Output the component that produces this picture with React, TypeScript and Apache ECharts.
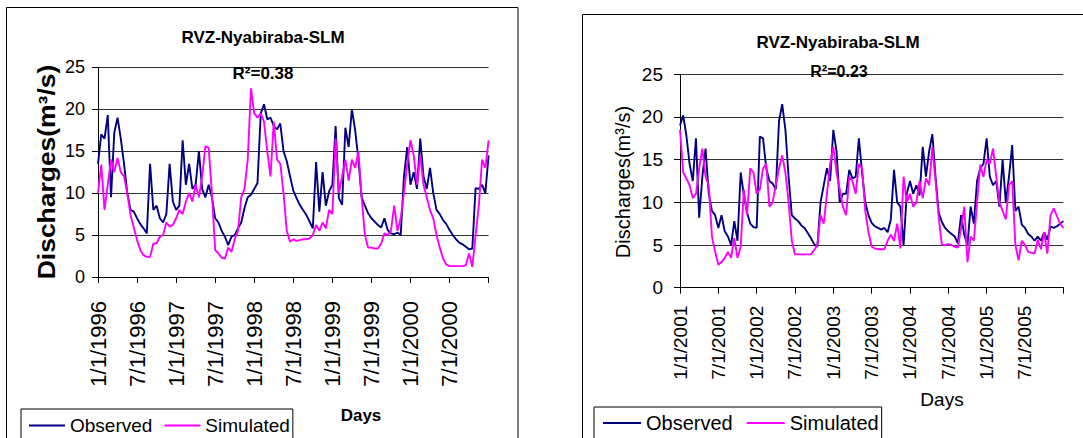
import React, { useEffect, useRef } from "react";
import * as echarts from "echarts";

// Observed / simulated daily discharges (m3/s), read every half month
const obs1996 = [
  13.5, 17, 16.5, 19.3, 9.5, 17.2, 19, 16.5, 13.5, 10,
  8, 7.8, 7, 6.3, 5.8, 5.2, 13.5, 8, 8.5, 7,
  6.5, 7.5, 13.5, 9, 8, 8.5, 16.3, 11, 13.5, 10.5,
  11, 15, 10.5, 9.5, 11, 9.5, 7, 6.5, 5.5, 4.8,
  3.8, 4.8, 5, 5.8, 6.5, 8.2, 9.5, 9.8, 10.5, 11.2,
  19.5, 20.6, 18.8, 19, 18, 17.6, 18.3, 15, 13.8, 12,
  10.3, 9.4, 8.6, 8, 7.4, 6.6, 5.8, 13.7, 7.8, 12.5,
  8.5, 10.2, 11, 18, 9.4, 8.6, 17.8, 15.5, 20, 17.5,
  14, 9.5, 8.5, 7.6, 7, 6.6, 6.2, 5.9, 7, 5.6,
  5.2, 5.1, 5.3, 5, 12, 15.5, 11, 12.5, 10.5, 16.5,
  12, 10.5, 13, 10, 8, 7.5, 6.8, 6.3, 5.6, 5,
  4.5, 4.1, 3.9, 3.6, 3.3, 3.4, 10.6, 10.5, 11, 10,
  14.5,
];
const sim1996 = [
  10, 13.4, 8, 11, 14, 12.5, 14.2, 12.5, 12, 10,
  7.4, 5.9, 4.4, 3.2, 2.6, 2.4, 2.4, 4, 4, 4.8,
  5, 6.5, 6, 6.2, 7, 8, 7.5, 9, 10, 9,
  11, 9.5, 12, 15.6, 15.4, 10, 3.2, 2.8, 2.3, 2.2,
  3.5, 3, 4.5, 5.5, 9.5, 10.5, 14, 22.5, 19.5, 19,
  19.5, 18.5, 15, 12, 18.5, 14, 13.5, 10, 5.5, 4.2,
  4.5, 4.3, 4.4, 4.5, 4.5, 4.6, 5, 6.2, 5.5, 6.5,
  5.8, 8, 7.5, 16.5, 10, 12, 14, 11.5, 14, 13,
  15, 9.5, 5, 3.5, 3.5, 3.4, 3.4, 4, 5.2, 5,
  5.5, 8.5, 5.5, 7, 10, 13.5, 16.3, 14.5, 11, 14.5,
  11, 9.5, 8, 7, 5, 3.5, 2.2, 1.5, 1.3, 1.3,
  1.3, 1.3, 1.3, 1.4, 2.8, 1.2, 5, 8.5, 14, 13,
  16.3,
];
const obs2001 = [
  19, 20.2, 17.8, 14.5, 12.5, 17.5, 8.2, 13, 16.3, 11,
  9, 8.5, 7, 8.5, 6.6, 6, 5, 7.8, 5.5, 13.5,
  10.8, 8.8, 7.5, 7.1, 7, 17.7, 17.5, 14, 12.5, 12.2,
  11.5, 19.5, 21.5, 18.5, 13, 8.5, 8.1, 7.8, 7.3, 7,
  6.4, 5.8, 5.1, 4.8, 10, 12, 14, 12.5, 18.5, 16,
  10, 11, 11, 13.8, 12.8, 13, 17.5, 13.5, 10, 8.5,
  7.6, 7.2, 7, 6.8, 7, 6.5, 8, 13.8, 10, 9.5,
  5, 11, 12.5, 11, 12, 10.8, 16.5, 13, 16, 18,
  13, 8.8, 7.7, 7, 6.6, 6.3, 6, 5.2, 8.5, 6.2,
  5, 9.5, 7.5, 12.5, 14, 14.5, 17.5, 13, 12, 12.5,
  9.5, 15, 10, 13, 16.7, 9, 9.5, 7.4, 7, 6.3,
  6, 5.5, 6, 5.5, 6.5, 5.6, 7.2, 7, 7.2, 7.5,
  7.8,
];
const sim2001 = [
  18.5, 13.5, 12.8, 12, 10.5, 11, 14, 16.3, 13, 12,
  6, 4.2, 2.7, 3, 3.5, 4.2, 3.5, 5.8, 3.5, 4.8,
  11.5, 8.5, 14, 13.5, 11, 11.5, 14, 14.5, 9.5, 10,
  12, 14, 15.5, 13.5, 10, 5.5, 3.9, 3.9, 3.9, 3.9,
  3.9, 3.9, 4.4, 5, 8.5, 7.5, 11, 14.5, 16.5, 13.5,
  11.5, 9.5, 8.5, 13, 12.5, 11, 14.5, 14, 9, 6.5,
  4.8, 4.6, 4.5, 4.5, 4.5, 5.5, 6.2, 5.5, 7.5, 4.6,
  13, 10, 11, 9.5, 10, 12.5, 10.5, 12.8, 12, 16.5,
  12.5, 8.2, 5, 5, 5.1, 5, 4.8, 4.7, 7, 9.5,
  3, 6, 5.5, 10, 14.4, 13, 15, 14.5, 16.3, 13,
  10, 9, 8, 12, 12.5, 5, 3.2, 5.5, 5, 4.2,
  4.1, 4, 5.6, 4.5, 6.5, 4, 8.5, 9.3, 8.4, 7.5,
  7,
];

const ticks1996 = ["1/1/1996", "7/1/1996", "1/1/1997", "7/1/1997", "1/1/1998", "7/1/1998", "1/1/1999", "7/1/1999", "1/1/2000", "7/1/2000"];
const ticks2001 = ["1/1/2001", "7/1/2001", "1/1/2002", "7/1/2002", "1/1/2003", "7/1/2003", "1/1/2004", "7/1/2004", "1/1/2005", "7/1/2005"];
const seriesNames = ["Observed", "Simulated"];
const titleText = "RVZ-Nyabiraba-SLM";
const r2Left = "R²=0.38";
const r2Right = "R²=0.23";
const yTitle = "Discharges(m³/s)";
const xTitle = "Days";

const FONT = "'Liberation Sans', Arial, Helvetica, sans-serif";
const NAVY = "#000080";
const MAGENTA = "#FF00FF";

const toPairs = (arr: number[]) => arr.map((v, i) => [i * 0.5, v]);

function xAxisFor(grid: number, labels: string[], fontSize: number, margin: number) {
  return {
    gridIndex: grid,
    type: "value",
    min: 0,
    max: 60,
    interval: 6,
    axisLine: { show: true, onZero: false, lineStyle: { color: "#000", width: 1 } },
    axisTick: { show: true, length: 6, lineStyle: { color: "#000", width: 1 } },
    splitLine: { show: false },
    axisLabel: {
      rotate: 90,
      margin,
      fontSize,
      color: "#000",
      fontFamily: FONT,
      showMaxLabel: true,
      formatter: (v: number) => labels[Math.round(v / 6)] ?? "",
    },
  };
}

function yAxisFor(grid: number, fontSize: number, margin: number) {
  return {
    gridIndex: grid,
    type: "value",
    min: 0,
    max: 25,
    interval: 5,
    axisLine: { show: true, lineStyle: { color: "#000", width: 1 } },
    axisTick: { show: true, length: 6, lineStyle: { color: "#000", width: 1 } },
    splitLine: { show: true, lineStyle: { color: "#333", width: 1 } },
    axisLabel: { fontSize, margin, color: "#000", fontFamily: FONT },
  };
}

function lineSeries(name: string, color: string, data: number[], idx: number, z: number) {
  return {
    name,
    type: "line",
    xAxisIndex: idx,
    yAxisIndex: idx,
    data: toPairs(data),
    showSymbol: false,
    symbol: "none",
    lineStyle: { color, width: 1.9 },
    itemStyle: { color },
    z,
  };
}

function txt(text: string, x: number, y: number, size: number, bold: boolean, rotation = 0, scaleX = 1) {
  return {
    type: "text",
    x,
    y,
    rotation,
    scaleX,
    z: 10,
    style: {
      text,
      fill: "#000",
      font: `${bold ? "bold " : ""}${size}px ${FONT}`,
      textAlign: "center",
      textVerticalAlign: "middle",
    },
  };
}

export default function App() {
  const ref = useRef<HTMLDivElement>(null);
  useEffect(() => {
    if (!ref.current) return;
    const chart = echarts.init(ref.current, undefined, { renderer: "svg" });
    const option = {
      animation: false,
      backgroundColor: "#fff",
      grid: [
        { left: 98, top: 67.3, width: 390.6, height: 209.7 },
        { left: 680, top: 74.3, width: 383.3, height: 213.4 },
      ],
      xAxis: [xAxisFor(0, ticks1996, 22, 24), xAxisFor(1, ticks2001, 19, 18)],
      yAxis: [yAxisFor(0, 18, 13), yAxisFor(1, 19, 17)],
      legend: [
        {
          data: seriesNames,
          left: 21,
          top: 409,
          icon: "rect",
          itemWidth: 36,
          itemHeight: 2,
          itemGap: 12,
          padding: [7, 3, 10, 8],
          borderColor: "#000",
          borderWidth: 1,
          selectedMode: false,
          textStyle: { fontSize: 19, color: "#000", fontFamily: FONT },
        },
        {
          data: seriesNames,
          left: 594,
          top: 407,
          icon: "rect",
          itemWidth: 38,
          itemHeight: 2,
          itemGap: 14,
          padding: [6, 3, 10, 9],
          borderColor: "#000",
          borderWidth: 1,
          selectedMode: false,
          textStyle: { fontSize: 20, color: "#000", fontFamily: FONT },
        },
      ],
      series: [
        lineSeries(seriesNames[0], NAVY, obs1996, 0, 2),
        lineSeries(seriesNames[1], MAGENTA, sim1996, 0, 3),
        lineSeries(seriesNames[0], NAVY, obs2001, 1, 2),
        lineSeries(seriesNames[1], MAGENTA, sim2001, 1, 3),
      ],
      graphic: [
        {
          type: "rect",
          z: 0,
          silent: true,
          shape: { x: 6.5, y: 7.5, width: 511.5, height: 500 },
          style: { fill: "none", stroke: "#000", lineWidth: 1 },
        },
        {
          type: "rect",
          z: 0,
          silent: true,
          shape: { x: 582.5, y: 14.5, width: 600, height: 500 },
          style: { fill: "none", stroke: "#000", lineWidth: 1 },
        },
        txt(titleText, 263, 37, 17, true),
        txt(r2Left, 263, 73, 17, true),
        txt(yTitle, 47, 172, 23, true, Math.PI / 2, 1.15),
        txt(xTitle, 361, 415, 17, true),
        txt(titleText, 838, 42, 17, true),
        txt(r2Right, 839, 71, 16, true),
        txt(yTitle, 623, 182, 20, false, Math.PI / 2),
        txt(xTitle, 942, 399, 19, false),
      ],
    };
    chart.setOption(option as any);
    return () => chart.dispose();
  }, []);
  return (
    <div
      ref={ref}
      style={{ position: "absolute", left: 0, top: 0, width: 1083, height: 438, background: "#fff" }}
    />
  );
}
